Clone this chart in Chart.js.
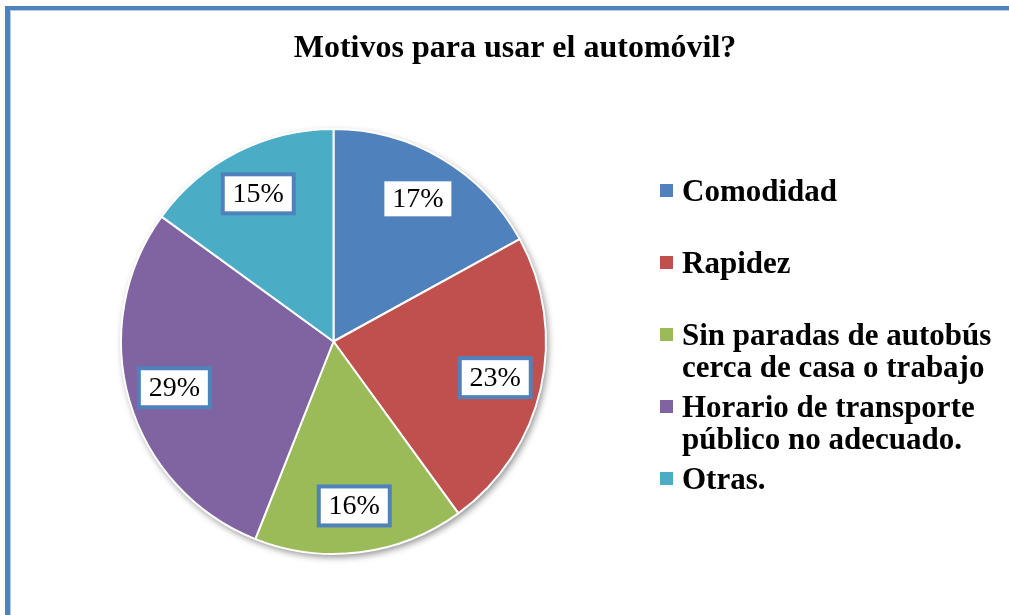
<!DOCTYPE html>
<html>
<head>
<meta charset="utf-8">
<script src="https://cdn.jsdelivr.net/npm/chart.js@4.4.1/dist/chart.umd.min.js"></script>
<style>
  html, body { margin: 0; padding: 0; background: #fff; overflow: hidden; }
  #wrap { position: relative; width: 1009px; height: 615px; }
  #myChart { position: absolute; left: 0; top: 0; }
  /* blue frame of the chart area, runs past the right and bottom edges */
  #frame {
    position: absolute; left: 5px; top: 6px; width: 1100px; height: 700px;
    border-left: 5px solid #4F81BD; border-top: 4px solid #4F81BD;
    box-shadow: inset 1px 1px 0 #B7CBE6; pointer-events: none;
  }
</style>
</head>
<body>
<div id="wrap">
  <canvas id="myChart" width="1009" height="615"></canvas>
  <div id="frame"></div>
</div>
<script>
// Chart data
const chartTitle = 'Motivos para usar el automóvil?';
const categories = [
  ['Comodidad'],
  ['Rapidez'],
  ['Sin paradas de autobús', 'cerca de casa o trabajo'],
  ['Horario de transporte', 'público no adecuado.'],
  ['Otras.']
];
const percentages = [17, 23, 16, 29, 15];
const sliceColors = ['#4F81BD', '#C0504D', '#9BBB59', '#8064A2', '#4BACC6'];

const serif = "'Liberation Serif', 'DejaVu Serif', serif";

// Soft shadow under the whole pie
const pieShadow = {
  id: 'pieShadow',
  beforeDatasetsDraw(chart) {
    const arc = chart.getDatasetMeta(0).data[0];
    if (!arc) return;
    const { ctx } = chart;
    ctx.save();
    ctx.shadowColor = 'rgba(0, 0, 0, 0.45)';
    ctx.shadowBlur = 7;
    ctx.shadowOffsetX = 2;
    ctx.shadowOffsetY = 3;
    ctx.fillStyle = '#fff';
    ctx.beginPath();
    ctx.arc(arc.x, arc.y, arc.outerRadius, 0, Math.PI * 2);
    ctx.fill();
    ctx.restore();
  }
};

// Percentage labels in white boxes with a blue border
const sliceLabels = {
  id: 'sliceLabels',
  afterDatasetsDraw(chart) {
    const { ctx } = chart;
    const meta = chart.getDatasetMeta(0);
    ctx.save();
    ctx.font = '28px ' + serif;
    ctx.textAlign = 'center';
    ctx.textBaseline = 'middle';
    meta.data.forEach((arc, i) => {
      const mid = (arc.startAngle + arc.endAngle) / 2;
      const r = arc.outerRadius * 0.78;
      const x = arc.x + Math.cos(mid) * r;
      const y = arc.y + Math.sin(mid) * r;
      const w = 71, h = 39;
      ctx.fillStyle = '#fff';
      ctx.fillRect(x - w / 2, y - h / 2, w, h);
      ctx.strokeStyle = '#4F81BD';
      ctx.lineWidth = 4;
      ctx.strokeRect(x - w / 2, y - h / 2, w, h);
      ctx.fillStyle = '#000';
      ctx.fillText(percentages[i] + '%', x, y + 1);
    });
    ctx.restore();
  }
};

// Title and legend on the right
const sideText = {
  id: 'sideText',
  afterDraw(chart) {
    const { ctx } = chart;
    ctx.save();
    ctx.fillStyle = '#000';
    ctx.font = 'bold 32px ' + serif;
    ctx.textAlign = 'center';
    ctx.textBaseline = 'alphabetic';
    ctx.fillText(chartTitle, 515, 57);

    ctx.font = 'bold 31px ' + serif;
    ctx.textAlign = 'left';
    categories.forEach((lines, i) => {
      const y = 191 + i * 72;
      ctx.fillStyle = sliceColors[i];
      ctx.fillRect(660, y - 7, 13, 13);
      ctx.fillStyle = '#000';
      lines.forEach((line, j) => ctx.fillText(line, 682, y + 10 + j * 32));
    });
    ctx.restore();
  }
};

document.addEventListener('DOMContentLoaded', () => {
  const canvas = document.getElementById('myChart');
  new Chart(canvas, {
    type: 'pie',
    data: {
      labels: categories,
      datasets: [{
        data: percentages,
        backgroundColor: sliceColors,
        borderColor: '#fff',
        borderWidth: 2
      }]
    },
    options: {
      responsive: false,
      animation: false,
      layout: { padding: { left: 120, right: 462, top: 128, bottom: 60 } },
      plugins: {
        legend: { display: false },
        title: { display: false },
        tooltip: { enabled: false }
      }
    },
    plugins: [pieShadow, sliceLabels, sideText]
  });
});
</script>
</body>
</html>
